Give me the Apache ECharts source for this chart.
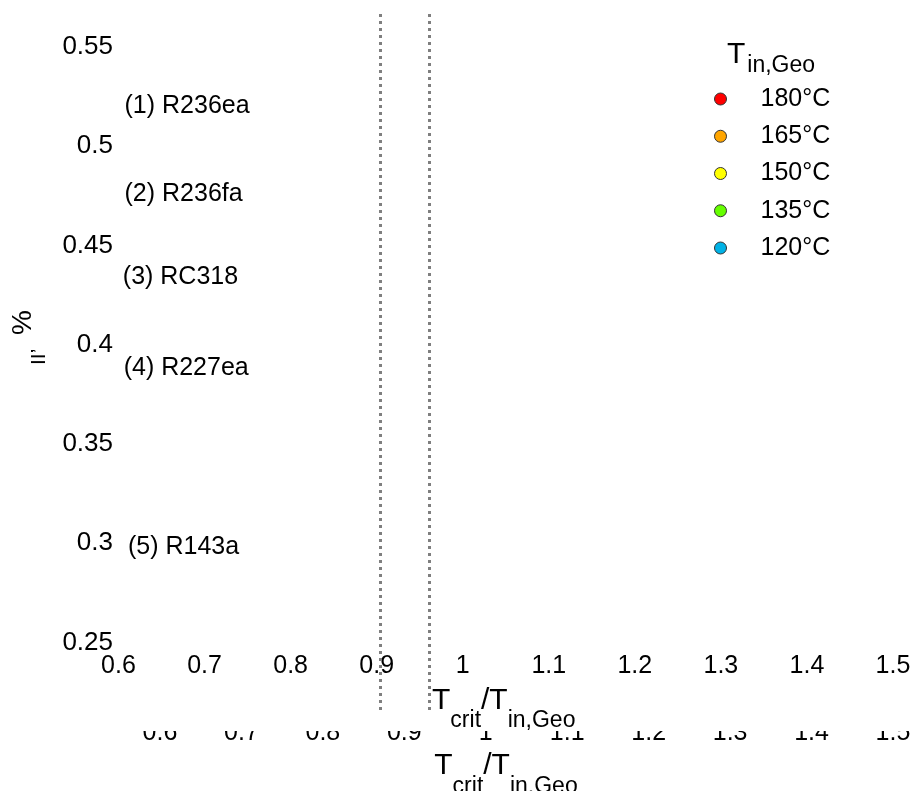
<!DOCTYPE html>
<html>
<head>
<meta charset="utf-8">
<script src="https://cdn.jsdelivr.net/npm/echarts@6/dist/echarts.min.js"></script>
<style>
  html, body { margin: 0; padding: 0; background: #fff; }
  #chart { width: 912px; height: 791px; }
</style>
</head>
<body>
<div id="chart"></div>
<script>
// Axis ranges and ticks
const ratioTicks = { min: 0.6, max: 1.5, interval: 0.1 };
const exergyTicks = { min: 0.25, max: 0.55, interval: 0.05 };

// Geothermal inlet temperatures and their marker colours
const inletTemps = ['180°C', '165°C', '150°C', '135°C', '120°C'];
const inletColors = ['#ff0000', '#ffa500', '#ffff00', '#66ff00', '#00b2e6'];

// Working-fluid annotations: [Tcrit/Tin ratio, value, text]
const fluidX = [0.607, 0.607, 0.605, 0.606, 0.611];
const fluidY = [0.520, 0.476, 0.434, 0.388, 0.298];
const fluidNames = ['(1) R236ea', '(2) R236fa', '(3) RC318', '(4) R227ea', '(5) R143a'];

// Dotted guide positions on the Tcrit/Tin axis
const guideRatios = [0.872, 0.928];

const FONT = 'Liberation Sans, Arial, sans-serif';

const titleRich = {
  t: { fontSize: 30, lineHeight: 30, verticalAlign: 'top', fontFamily: FONT, color: '#000' },
  s: { fontSize: 23, lineHeight: 23, verticalAlign: 'top', padding: [24, 0, 0, 0], fontFamily: FONT, color: '#000' }
};
const ratioTitle = '{t|T}{s|crit}{t|/T}{s|in,Geo}';

const chart = echarts.init(document.getElementById('chart'), null, { renderer: 'canvas' });

const tempSeries = inletTemps.map((name, i) => ({
  name: name,
  type: 'scatter',
  xAxisIndex: 0,
  yAxisIndex: 0,
  data: [],
  symbol: 'circle',
  symbolSize: 12,
  itemStyle: { color: inletColors[i], borderColor: '#333', borderWidth: 1, opacity: 1 },
  z: 5
}));

const option = {
  backgroundColor: '#fff',
  animation: false,
  textStyle: { fontFamily: FONT },
  grid: [
    { left: 118.5, right: 19, top: 47, bottom: 148.5, outerBoundsMode: 'none', containLabel: false },
    { left: 160, right: 19, top: 14, bottom: 81, outerBoundsMode: 'none', containLabel: false }
  ],
  xAxis: [
    {
      gridIndex: 0, type: 'value', z: 3,
      min: ratioTicks.min, max: ratioTicks.max, interval: ratioTicks.interval,
      axisLine: { show: false }, axisTick: { show: false }, splitLine: { show: false },
      axisLabel: { fontSize: 25, color: '#000', margin: 11, fontFamily: FONT },
      name: ratioTitle, nameLocation: 'middle', nameGap: 43,
      nameTextStyle: { rich: titleRich, padding: [0, 4, 0, 0] }
    },
    {
      gridIndex: 1, type: 'value', z: 0,
      min: ratioTicks.min, max: ratioTicks.max, interval: ratioTicks.interval,
      axisLine: { show: false }, axisTick: { show: false }, splitLine: { show: false },
      axisLabel: { fontSize: 25, color: '#000', margin: 10.5, fontFamily: FONT },
      name: ratioTitle, nameLocation: 'middle', nameGap: 41,
      nameTextStyle: { rich: titleRich, padding: [0, 41, 0, 0] }
    }
  ],
  yAxis: [
    {
      gridIndex: 0, type: 'value', z: 3,
      min: exergyTicks.min, max: exergyTicks.max, interval: exergyTicks.interval,
      axisLine: { show: false }, axisTick: { show: false }, splitLine: { show: false },
      axisLabel: { fontSize: 26, color: '#000', margin: 5.5, fontFamily: FONT }
    },
    {
      gridIndex: 1, type: 'value', min: 0, max: 1, show: false
    }
  ],
  legend: {
    orient: 'vertical',
    left: 714,
    top: 86.5,
    padding: 0,
    itemWidth: 12,
    itemHeight: 12,
    itemGap: 12.25,
    icon: 'circle',
    data: inletTemps,
    itemStyle: { borderColor: '#333', borderWidth: 1, opacity: 1 },
    textStyle: { fontSize: 25, lineHeight: 25, color: '#000', fontFamily: FONT, padding: [0, 0, 0, 29] }
  },
  graphic: {
    elements: [
      // White panel over the lower axis band
      {
        type: 'rect', z: 1, silent: true,
        shape: { x: 0, y: 0, width: 912, height: 731 },
        style: { fill: '#fff' }
      },
      // Legend heading
      {
        type: 'text', z: 10, x: 727, y: 40,
        style: {
          text: '{t|T}{s|in,Geo}',
          rich: {
            t: { fontSize: 30, lineHeight: 30, verticalAlign: 'top', fontFamily: FONT, fill: '#000' },
            s: { fontSize: 23, lineHeight: 23, verticalAlign: 'top', padding: [14, 0, 0, 2], fontFamily: FONT, fill: '#000' }
          },
          align: 'left', verticalAlign: 'top'
        }
      },
      // Y axis title
      {
        type: 'text', z: 10, x: 39.7, y: 365, rotation: Math.PI / 2,
        style: { text: 'II’', fontSize: 21, fontFamily: FONT, fill: '#000', align: 'left', verticalAlign: 'middle' }
      },
      {
        type: 'text', z: 10, x: 23.3, y: 335, rotation: Math.PI / 2,
        style: { text: '%', fontSize: 28, fontFamily: FONT, fill: '#000', align: 'left', verticalAlign: 'middle' }
      }
    ]
  },
  series: [
    ...tempSeries,
    {
      name: 'fluids',
      type: 'scatter',
      xAxisIndex: 0,
      yAxisIndex: 0,
      symbolSize: 0,
      z: 5,
      silent: true,
      itemStyle: { opacity: 1 },
      data: fluidNames.map((n, i) => ({ value: [fluidX[i], fluidY[i]], name: n })),
      label: {
        show: true,
        position: 'right',
        distance: 0,
        formatter: p => p.name,
        fontSize: 25,
        color: '#000',
        opacity: 1,
        fontFamily: FONT
      }
    },
    {
      name: 'guides',
      type: 'line',
      xAxisIndex: 1,
      yAxisIndex: 1,
      data: [],
      z: 5,
      silent: true,
      markLine: {
        silent: true,
        symbol: 'none',
        label: { show: false },
        lineStyle: { type: [3, 4], width: 3, color: '#7f7f7f', opacity: 1 },
        data: guideRatios.map(v => ({ xAxis: v }))
      }
    }
  ]
};

chart.setOption(option);
</script>
</body>
</html>
